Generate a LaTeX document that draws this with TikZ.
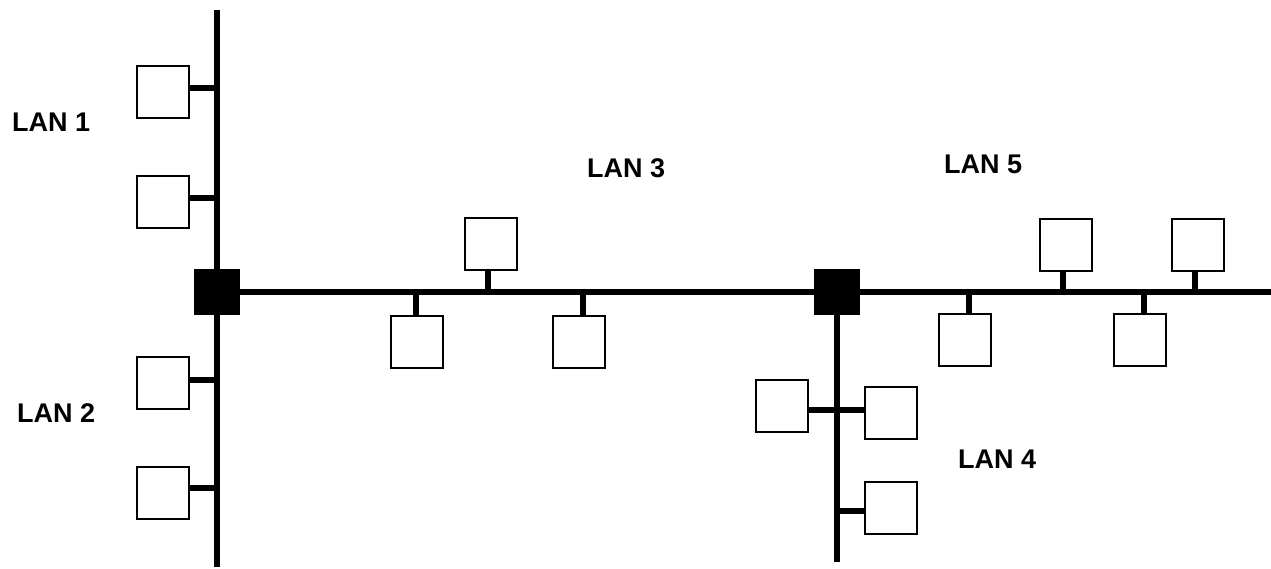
\documentclass[tikz,border=0pt]{standalone}
\usepackage{fontspec}
\setmainfont{Liberation Sans}
\begin{document}
\begin{tikzpicture}[x=1pt,y=-1pt,
  bus/.style={line width=6pt},
  stub/.style={line width=5.5pt},
  host/.style={draw,line width=1.6pt,fill=white,minimum size=52pt,inner sep=0pt,rectangle},
  bridge/.style={fill=black,minimum size=46pt,inner sep=0pt,rectangle},
  lan/.style={font=\fontsize{27}{27}\selectfont\bfseries,inner sep=0pt,anchor=west}]
\useasboundingbox (0,0) rectangle (1271,568);
% bus end points
\coordinate (top1) at (217,10);
\coordinate (bot1) at (217,567);
\coordinate (end3) at (1271,292);
\coordinate (bot4) at (837,562);
% bridges
\node[bridge] (br1) at (217,292) {};
\node[bridge] (br2) at (837,292) {};
% buses
\draw[bus] (top1) -- (bot1);
\draw[bus] (br1.center) -- (end3);
\draw[bus] (br2.center) -- (bot4);
\node[bridge] at (br1) {};
\node[bridge] at (br2) {};
% tap points on the buses
\coordinate (t1) at (217,88);
\coordinate (t2) at (217,198);
\coordinate (t3) at (217,380);
\coordinate (t4) at (217,488);
\coordinate (t5) at (416,292);
\coordinate (t6) at (488,292);
\coordinate (t7) at (583,292);
\coordinate (t8) at (969,292);
\coordinate (t9) at (1063,292);
\coordinate (t10) at (1144,292);
\coordinate (t11) at (1195,292);
\coordinate (t12) at (837,410);
\coordinate (t13) at (837,511);
% hosts
\node[host] (h1) at (163,92) {};
\node[host] (h2) at (163,202) {};
\node[host] (h3) at (163,383) {};
\node[host] (h4) at (163,493) {};
\node[host] (h5) at (417,342) {};
\node[host] (h6) at (491,244) {};
\node[host] (h7) at (579,342) {};
\node[host] (h8) at (965,340) {};
\node[host] (h9) at (1066,245) {};
\node[host] (h10) at (1140,340) {};
\node[host] (h11) at (1198,245) {};
\node[host] (h12) at (782,406) {};
\node[host] (h13) at (891,413) {};
\node[host] (h14) at (891,508) {};
% stubs
\draw[stub] (t1) -- (t1 -| h1.east);
\draw[stub] (t2) -- (t2 -| h2.east);
\draw[stub] (t3) -- (t3 -| h3.east);
\draw[stub] (t4) -- (t4 -| h4.east);
\draw[stub] (t5) -- (t5 |- h5.north);
\draw[stub] (t6) -- (t6 |- h6.south);
\draw[stub] (t7) -- (t7 |- h7.north);
\draw[stub] (t8) -- (t8 |- h8.north);
\draw[stub] (t9) -- (t9 |- h9.south);
\draw[stub] (t10) -- (t10 |- h10.north);
\draw[stub] (t11) -- (t11 |- h11.south);
\draw[stub] (t12 -| h12.east) -- (t12 -| h13.west);
\draw[stub] (t13) -- (t13 -| h14.west);
% labels
\node[lan] (l1) at (12,122) {LAN 1};
\node[lan] (l2) at (17,413) {LAN 2};
\node[lan] (l3) at (587,168) {LAN 3};
\node[lan] (l5) at (944,164) {LAN 5};
\node[lan] (l4) at (958,459) {LAN 4};
\end{tikzpicture}
\end{document}
